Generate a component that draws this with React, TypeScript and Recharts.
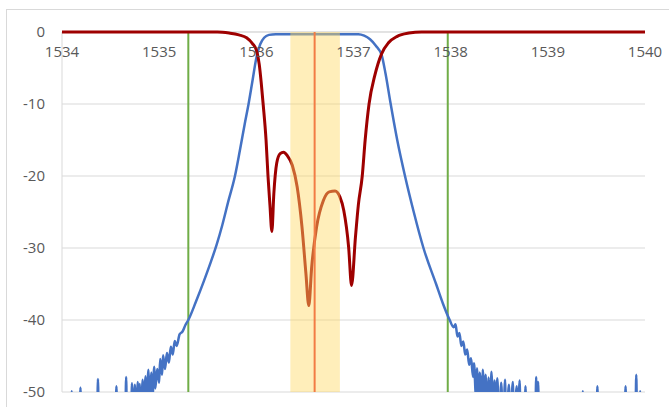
import { LineChart, Line, XAxis, YAxis, CartesianGrid, ReferenceLine, ReferenceArea } from "recharts";

const xTicks = [1534, 1535, 1536, 1537, 1538, 1539, 1540];
const yTicks = [0, -10, -20, -30, -40, -50];

// blue trace: wavelength (nm) / level (dB), values below -50 are off the chart
const blueWavelength = [
  1534.0, 1534.09, 1534.1, 1534.11, 1534.18, 1534.19, 1534.2, 1534.36, 1534.37, 1534.38,
  1534.55, 1534.56, 1534.57, 1534.65, 1534.66, 1534.67, 1534.71, 1534.72, 1534.73, 1534.75,
  1534.76, 1534.78, 1534.79, 1534.8, 1534.81, 1534.83, 1534.84, 1534.86, 1534.87, 1534.89,
  1534.9, 1534.92, 1534.93, 1534.95, 1534.96, 1534.98, 1535.0, 1535.01, 1535.03, 1535.04,
  1535.06, 1535.08, 1535.1, 1535.12, 1535.14, 1535.16, 1535.18, 1535.21, 1535.24, 1535.27,
  1535.3, 1535.38, 1535.46, 1535.53, 1535.59, 1535.65, 1535.71, 1535.78, 1535.83, 1535.88,
  1535.92, 1535.96, 1536.0, 1536.04, 1536.08, 1536.13, 1536.2, 1536.5, 1536.8, 1537.05,
  1537.11, 1537.17, 1537.23, 1537.29, 1537.33, 1537.38, 1537.45, 1537.53, 1537.62, 1537.72,
  1537.85, 1537.92, 1537.99, 1538.03, 1538.05, 1538.07, 1538.09, 1538.11, 1538.13, 1538.15,
  1538.17, 1538.19, 1538.21, 1538.23, 1538.24, 1538.26, 1538.27, 1538.29, 1538.3, 1538.32,
  1538.33, 1538.35, 1538.36, 1538.38, 1538.39, 1538.41, 1538.42, 1538.44, 1538.45, 1538.47,
  1538.48, 1538.5, 1538.52, 1538.54, 1538.56, 1538.57, 1538.6, 1538.61, 1538.64, 1538.65,
  1538.68, 1538.69, 1538.71, 1538.72, 1538.76, 1538.77, 1538.78, 1538.87, 1538.88, 1538.89,
  1538.9, 1538.91, 1539.35, 1539.36, 1539.37, 1539.5, 1539.51, 1539.52, 1539.79, 1539.8,
  1539.81, 1539.9, 1539.91, 1539.92, 1539.94, 1539.95, 1539.96, 1540.0,
];
const blueLevel = [
  -56, -56, -49.9, -56, -56, -49.4, -56, -56, -48.2, -56,
  -56, -49.2, -56, -56, -47.9, -56, -56, -48.8, -56, -49.0,
  -56, -48.6, -52, -48.9, -56, -48.3, -51, -47.8, -52, -46.9,
  -50.5, -47.3, -51, -46.5, -49.5, -46.8, -48.7, -45.4, -47.6, -44.9,
  -46.8, -44.6, -45.9, -43.7, -44.8, -42.9, -43.6, -42.0, -41.6, -40.7,
  -40.0, -37.4, -34.6, -32.0, -29.6, -26.8, -23.6, -20.0, -16.5, -12.8,
  -10.0, -6.8, -3.6, -1.7, -0.8, -0.4, -0.3, -0.3, -0.3, -0.3,
  -0.5, -1.0, -1.9, -3.2, -5.8, -9.8, -15.0, -20.0, -25.0, -30.0,
  -35.0, -37.7, -40.0, -41.0, -40.6, -42.3, -41.8, -43.6, -43.0, -44.8,
  -44.1, -46.2, -45.3, -47.9, -46.0, -50.5, -46.7, -52, -47.3, -51,
  -46.9, -53, -47.6, -56, -48.0, -52, -47.2, -56, -48.4, -53,
  -48.1, -56, -48.7, -56, -48.3, -56, -49.0, -56, -48.6, -56,
  -49.2, -56, -48.4, -56, -56, -49.2, -56, -56, -47.9, -56,
  -48.6, -56, -56, -49.9, -56, -56, -49.2, -56, -56, -49.2,
  -56, -56, -47.6, -56, -56, -49.9, -56, -56,
];

// red trace
const redWavelength = [
  1534.0, 1535.6, 1535.72, 1535.82, 1535.9, 1535.96, 1536.0, 1536.03, 1536.05, 1536.07,
  1536.1, 1536.12, 1536.14, 1536.16, 1536.18, 1536.21, 1536.245, 1536.28, 1536.32, 1536.37,
  1536.42, 1536.47, 1536.51, 1536.54, 1536.57, 1536.62, 1536.69, 1536.75, 1536.81, 1536.86,
  1536.9, 1536.95, 1536.98, 1537.02, 1537.05, 1537.09, 1537.12, 1537.16, 1537.22, 1537.29,
  1537.36, 1537.45, 1537.57, 1537.7, 1540.0,
];
const redLevel = [
  0, 0, -0.15, -0.4, -0.8, -1.6, -2.5, -4.5, -7.0, -10.0,
  -15.0, -20.0, -24.0, -27.7, -22.5, -18.2, -16.9, -16.7, -17.2, -18.5,
  -21.5, -27.1, -33.5, -38.0, -32.6, -27.1, -23.4, -22.2, -22.1, -22.9,
  -24.8, -29.9, -35.2, -28.5, -24.0, -20.0, -15.0, -10.0, -6.0, -3.0,
  -1.5, -0.6, -0.15, 0, 0,
];

const greenMarkers = [1535.3, 1537.97];
const centerMarker = 1536.6;
const bandFrom = 1536.35;
const bandTo = 1536.86;

const blueData = blueWavelength.map((x, i) => ({ x, y: blueLevel[i] }));
const redData = redWavelength.map((x, i) => ({ x, y: redLevel[i] }));

const renderXTick = (props: any) => {
  const { x, y, payload } = props;
  return (
    <text x={x} y={y} dy={25} textAnchor="middle" fill="#595959" fontSize={15}>
      {payload.value}
    </text>
  );
};

export default function App() {
  return (
    <div
      style={{
        position: "absolute",
        left: 0,
        top: 0,
        width: 669,
        height: 407,
        overflow: "hidden",
        background: "#fff",
        fontFamily: "'Open Sans', sans-serif",
      }}
    >
      <div
        style={{
          position: "absolute",
          left: 6,
          top: 9,
          width: 700,
          height: 440,
          border: "1px solid #d9d9d9",
        }}
      />
      <LineChart
        width={669}
        height={407}
        margin={{ top: 31, right: 24, bottom: 15, left: 0 }}
        style={{ position: "absolute", left: 0, top: 0 }}
      >
        <CartesianGrid vertical={false} stroke="#d9d9d9" strokeWidth={1} />
        <XAxis
          type="number"
          dataKey="x"
          orientation="top"
          domain={[1534, 1540]}
          ticks={xTicks}
          height={1}
          tickSize={0}
          tickMargin={0}
          tickLine={false}
          axisLine={{ stroke: "#d9d9d9" }}
          tick={renderXTick}
          interval={0}
          allowDataOverflow
        />
        <YAxis
          type="number"
          domain={[-50, 0]}
          ticks={yTicks}
          width={62}
          tickSize={0}
          tickMargin={17}
          tickLine={false}
          axisLine={{ stroke: "#d9d9d9" }}
          tick={{ fill: "#595959", fontSize: 15 }}
        />
        <YAxis yAxisId="b" type="number" domain={[-50, 0]} hide allowDataOverflow />
        {greenMarkers.map((g) => (
          <ReferenceLine key={g} x={g} stroke="#70AD47" strokeWidth={2} {...({ zIndex: 520 } as any)} />
        ))}
        <Line
          data={blueData}
          yAxisId="b"
          dataKey="y"
          type="monotone"
          stroke="#4472C4"
          strokeWidth={2.5}
          dot={false}
          isAnimationActive={false}
          {...({ zIndex: 540 } as any)}
        />
        <Line
          data={redData}
          dataKey="y"
          type="monotone"
          stroke="#9E0000"
          strokeWidth={3}
          dot={false}
          isAnimationActive={false}
          {...({ zIndex: 550 } as any)}
        />
        <ReferenceArea
          x1={bandFrom}
          x2={bandTo}
          fill="#FFD966"
          fillOpacity={0.45}
          stroke="none"
          {...({ zIndex: 560 } as any)}
        />
        <ReferenceLine
          x={centerMarker}
          stroke="#F27C45"
          strokeWidth={2}
          {...({ zIndex: 570 } as any)}
        />
      </LineChart>
    </div>
  );
}
